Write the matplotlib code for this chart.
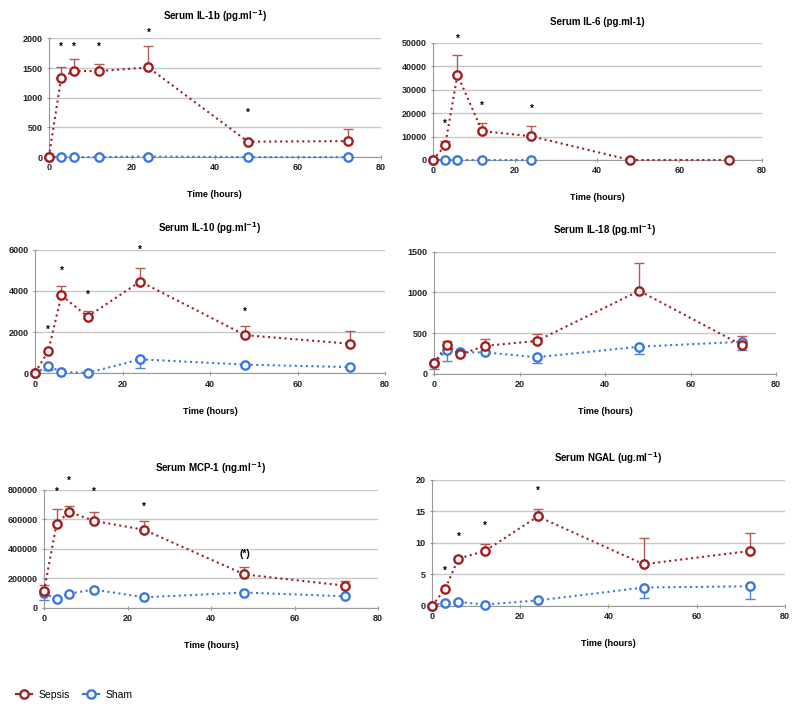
import numpy as np
import matplotlib.pyplot as plt
from matplotlib.lines import Line2D

plt.rcParams['font.family'] = ['Liberation Sans', 'DejaVu Sans']

nan = np.nan
hours = [0, 3, 6, 12, 24, 48, 72]

# Serum IL-1b
il1b_sepsis = [0, 1340, 1450, 1450, 1510, 260, 270]
il1b_sepsis_hi = [nan, 1520, 1660, 1570, 1880, nan, 470]
il1b_sham = [0, 0, 0, 0, 10, 0, 0]
il1b_sham_lo = [nan, nan, nan, nan, nan, nan, nan]
il1b_star_x = [3, 6, 12, 24, 48]
il1b_star_y = [1850, 1850, 1850, 2100, 750]

# Serum IL-6
il6_sepsis = [0, 6200, 36300, 12300, 10100, 0, 0]
il6_sepsis_hi = [nan, 7900, 44700, 15700, 14400, nan, nan]
il6_sham = [0, 0, 0, 0, 0, nan, nan]
il6_sham_lo = [nan, nan, nan, nan, nan, nan, nan]
il6_star_x = [3, 6, 12, 24]
il6_star_y = [15300, 51600, 23100, 21700]

# Serum IL-10
il10_sepsis = [30, 1080, 3780, 2750, 4450, 1850, 1430]
il10_sepsis_hi = [nan, nan, 4230, 3020, 5100, 2270, 2030]
il10_sham = [0, 370, 60, 20, 675, 420, 300]
il10_sham_lo = [nan, 140, nan, nan, 270, nan, nan]
il10_star_x = [3, 6, 12, 24, 48]
il10_star_y = [2090, 4950, 3790, 5980, 2990]

# Serum IL-18
il18_sepsis = [130, 355, 240, 345, 405, 1020, 355]
il18_sepsis_hi = [nan, 410, nan, 435, 495, 1360, 460]
il18_sham = [130, 295, 265, 265, 205, 335, 395]
il18_sham_lo = [60, 160, nan, nan, 135, 245, 290]
il18_star_x = []
il18_star_y = []

# Serum MCP-1
mcp1_sepsis = [113000, 570000, 651000, 590000, 529000, 227000, 151000]
mcp1_sepsis_hi = [158000, 669000, 694000, 653000, 588000, 277000, 180000]
mcp1_sham = [100000, 61000, 97000, 124000, 72000, 104000, 79000]
mcp1_sham_lo = [52000, nan, nan, nan, nan, nan, nan]
mcp1_star_x = [3, 6, 12, 24, 48]
mcp1_star_y = [784000, 860000, 784000, 687000, 365000]
mcp1_star_txt = ['*', '*', '*', '*', '(*)']

# Serum NGAL
ngal_sepsis = [0, 2.7, 7.5, 8.7, 14.2, 6.6, 8.7]
ngal_sepsis_hi = [nan, nan, nan, 9.8, 15.4, 10.8, 11.5]
ngal_sham = [0, 0.5, 0.6, 0.2, 0.85, 2.9, 3.1]
ngal_sham_lo = [nan, nan, nan, nan, nan, 1.3, 1.0]
ngal_star_x = [3, 6, 12, 24]
ngal_star_y = [5.6, 10.9, 12.7, 18.2]

RED = '#a11f1f'
RED_ERR = '#b25a55'
BLUE = '#3a78e0'
BLUE_ERR = '#4d84d8'

fig = plt.figure(figsize=(8, 7.11), dpi=100)


def panel(rect, title, sepsis, sepsis_hi, sham, sham_lo, star_x, star_y,
          yticks, star_txt=None):
    ax = fig.add_axes(rect)
    t = np.array(hours, float)
    s = np.array(sepsis, float)
    sh = np.array(sham, float)
    hi = np.array(sepsis_hi, float)
    lo = np.array(sham_lo, float)

    # error bars (sepsis upward, sham downward)
    m = ~np.isnan(hi)
    ax.errorbar(t[m], s[m], yerr=[np.zeros(m.sum()), hi[m] - s[m]], fmt='none',
                ecolor=RED_ERR, elinewidth=1, capsize=3.5, capthick=1,
                clip_on=False, zorder=2)
    m = ~np.isnan(lo)
    ax.errorbar(t[m], sh[m], yerr=[sh[m] - lo[m], np.zeros(m.sum())], fmt='none',
                ecolor=BLUE_ERR, elinewidth=1, capsize=3.5, capthick=1,
                clip_on=False, zorder=2)

    m = ~np.isnan(sh)
    ax.plot(t[m], sh[m], ':', color=BLUE, lw=1.5, marker='o', ms=6,
            mfc='white', mec=BLUE, mew=1.7, clip_on=False, zorder=3)
    ax.plot(t, s, ':', color=RED, lw=1.5, marker='o', ms=6,
            mfc='white', mec=RED, mew=1.7, clip_on=False, zorder=4)

    if star_txt is None:
        star_txt = ['*'] * len(star_x)
    for x, y, txt in zip(star_x, star_y, star_txt):
        ax.text(x, y, txt, ha='center', va='center', fontsize=7 if txt == '*' else 7.5,
                fontweight='bold', clip_on=False, zorder=5)

    ax.set_xlim(0, 80)
    ax.set_xticks([0, 20, 40, 60, 80])
    ax.set_ylim(yticks[0], yticks[-1])
    ax.set_yticks(yticks)
    ax.grid(axis='y', color='#c8c8c8', lw=1)
    ax.set_axisbelow(True)
    for side in ('top', 'right'):
        ax.spines[side].set_visible(False)
    for side in ('left', 'bottom'):
        ax.spines[side].set_color('#9a9a9a')
    ax.tick_params(labelsize=6.5, colors='#9a9a9a', length=3, direction='inout',
                   labelcolor='#222222', pad=3)
    for lbl in ax.get_xticklabels() + ax.get_yticklabels():
        lbl.set_fontweight('bold')
    ax.set_title(title, fontsize=7, fontweight='bold', pad=13)
    ax.set_xlabel('Time (hours)', fontsize=6.5, fontweight='bold', labelpad=13)
    return ax


panel([0.061, 0.779, 0.415, 0.167], 'Serum IL-1b (pg.ml$^{\\mathbf{-1}}$)',
      il1b_sepsis, il1b_sepsis_hi, il1b_sham, il1b_sham_lo,
      il1b_star_x, il1b_star_y, [0, 500, 1000, 1500, 2000])
panel([0.541, 0.775, 0.411, 0.165], 'Serum IL-6 (pg.ml-1)',
      il6_sepsis, il6_sepsis_hi, il6_sham, il6_sham_lo,
      il6_star_x, il6_star_y, [0, 10000, 20000, 30000, 40000, 50000])
panel([0.044, 0.475, 0.4375, 0.174], 'Serum IL-10 (pg.ml$^{\\mathbf{-1}}$)',
      il10_sepsis, il10_sepsis_hi, il10_sham, il10_sham_lo,
      il10_star_x, il10_star_y, [0, 2000, 4000, 6000])
panel([0.5425, 0.474, 0.4275, 0.172], 'Serum IL-18 (pg.ml$^{\\mathbf{-1}}$)',
      il18_sepsis, il18_sepsis_hi, il18_sham, il18_sham_lo,
      il18_star_x, il18_star_y, [0, 500, 1000, 1500])
panel([0.055, 0.145, 0.4175, 0.166], 'Serum MCP-1 (ng.ml$^{\\mathbf{-1}}$)',
      mcp1_sepsis, mcp1_sepsis_hi, mcp1_sham, mcp1_sham_lo,
      mcp1_star_x, mcp1_star_y, [0, 200000, 400000, 600000, 800000],
      star_txt=mcp1_star_txt)
panel([0.54, 0.148, 0.441, 0.177], 'Serum NGAL (ug.ml$^{\\mathbf{-1}}$)',
      ngal_sepsis, ngal_sepsis_hi, ngal_sham, ngal_sham_lo,
      ngal_star_x, ngal_star_y, [0, 5, 10, 15, 20])

handles = [Line2D([], [], color=RED, lw=1.5, marker='o', ms=6, mfc='white', mec=RED, mew=1.7),
           Line2D([], [], color=BLUE, lw=1.5, marker='o', ms=6, mfc='white', mec=BLUE, mew=1.7)]
fig.legend(handles, ['Sepsis', 'Sham'], loc='center left', bbox_to_anchor=(0.008, 0.023),
           ncol=2, frameon=False, fontsize=7.5, handlelength=1.6, columnspacing=1.2,
           handletextpad=0.6)

fig.savefig('out.png', dpi=100)
